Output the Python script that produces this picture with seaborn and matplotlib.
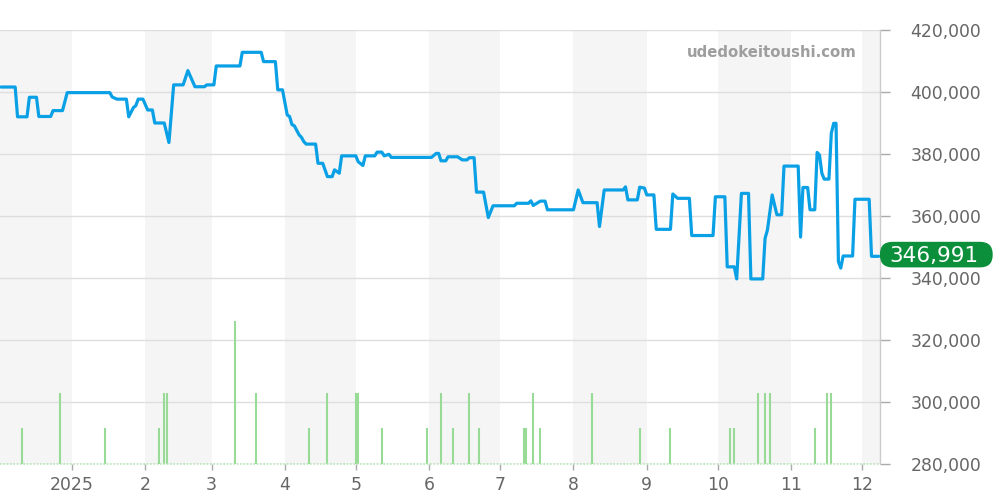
import matplotlib
matplotlib.use("Agg")
import matplotlib.pyplot as plt
import matplotlib.transforms as mtransforms
from matplotlib.patches import BoxStyle
from matplotlib.ticker import FuncFormatter
import seaborn as sns
import pandas as pd

# ---------------- data ----------------
price_dates = [
    "2024-12-02", "2024-12-08", "2024-12-09", "2024-12-13", "2024-12-14", "2024-12-17",
    "2024-12-18", "2024-12-23", "2024-12-24", "2024-12-28", "2024-12-30", "2025-01-17",
    "2025-01-18", "2025-01-20", "2025-01-24", "2025-01-25", "2025-01-27", "2025-01-28",
    "2025-01-29", "2025-01-31", "2025-02-02", "2025-02-04", "2025-02-05", "2025-02-09",
    "2025-02-11", "2025-02-13", "2025-02-17", "2025-02-19", "2025-02-22", "2025-02-26",
    "2025-02-27", "2025-03-02", "2025-03-03", "2025-03-13", "2025-03-14", "2025-03-22",
    "2025-03-23", "2025-03-28", "2025-03-29", "2025-03-31", "2025-04-02", "2025-04-03",
    "2025-04-04", "2025-04-05", "2025-04-07", "2025-04-08", "2025-04-09", "2025-04-10",
    "2025-04-14", "2025-04-15", "2025-04-17", "2025-04-19", "2025-04-21", "2025-04-22",
    "2025-04-24", "2025-04-25", "2025-05-01", "2025-05-02", "2025-05-04", "2025-05-05",
    "2025-05-09", "2025-05-10", "2025-05-12", "2025-05-13", "2025-05-15", "2025-05-16",
    "2025-06-02", "2025-06-04", "2025-06-05", "2025-06-06", "2025-06-08", "2025-06-09",
    "2025-06-13", "2025-06-15", "2025-06-17", "2025-06-18", "2025-06-20", "2025-06-21",
    "2025-06-24", "2025-06-26", "2025-06-28", "2025-07-07", "2025-07-08", "2025-07-13",
    "2025-07-14", "2025-07-15", "2025-07-18", "2025-07-20", "2025-07-21", "2025-08-01",
    "2025-08-03", "2025-08-05", "2025-08-11", "2025-08-12", "2025-08-14", "2025-08-22",
    "2025-08-23", "2025-08-24", "2025-08-28", "2025-08-29", "2025-08-31", "2025-09-01",
    "2025-09-04", "2025-09-05", "2025-09-11", "2025-09-12", "2025-09-14", "2025-09-19",
    "2025-09-20", "2025-09-29", "2025-09-30", "2025-10-04", "2025-10-05", "2025-10-08",
    "2025-10-09", "2025-10-11", "2025-10-14", "2025-10-15", "2025-10-20", "2025-10-21",
    "2025-10-22", "2025-10-24", "2025-10-26", "2025-10-28", "2025-10-29", "2025-11-04",
    "2025-11-05", "2025-11-06", "2025-11-08", "2025-11-09", "2025-11-11", "2025-11-12",
    "2025-11-13", "2025-11-14", "2025-11-15", "2025-11-17", "2025-11-18", "2025-11-19",
    "2025-11-20", "2025-11-21", "2025-11-22", "2025-11-23", "2025-11-27", "2025-11-28",
    "2025-12-04", "2025-12-05", "2025-12-08",
]
price_values = [
    401600, 401600, 392000, 392000, 398300, 398300,
    392100, 392100, 394000, 394000, 399800, 399800,
    398400, 397700, 397700, 392000, 395000, 395600,
    397700, 397700, 394200, 394200, 390000, 390000,
    383700, 402300, 402300, 406900, 401700, 401700,
    402300, 402300, 408400, 408400, 412800, 412800,
    409800, 409800, 400700, 400700, 392600, 392100,
    389500, 389100, 386200, 385400, 384000, 383200,
    383200, 377000, 377000, 372700, 372700, 374900,
    373800, 379400, 379400, 377500, 376300, 379400,
    379400, 380600, 380600, 379400, 379900, 378900,
    378900, 380200, 380200, 377800, 377800, 379100,
    379100, 378100, 378100, 378800, 378800, 367700,
    367700, 359500, 363300, 363300, 364100, 364100,
    364900, 363400, 364800, 364800, 362000, 362000,
    368400, 364300, 364300, 356600, 368400, 368400,
    369400, 365200, 365200, 369300, 369000, 366800,
    366800, 355700, 355700, 367100, 365700, 365700,
    353700, 353700, 366200, 366200, 343600, 343600,
    339700, 367300, 367300, 339700, 339700, 352800,
    355500, 366800, 360400, 360400, 376100, 376100,
    353200, 369200, 369200, 362000, 362000, 380500,
    379700, 373800, 371900, 371900, 386700, 389900,
    389900, 345300, 343200, 347100, 347100, 365400,
    365400, 346991, 346991,
]

volume_dates = [
    "2024-12-11", "2024-12-27", "2025-01-15", "2025-02-07", "2025-02-09", "2025-02-10",
    "2025-03-11", "2025-03-20", "2025-04-11", "2025-04-19", "2025-05-01", "2025-05-02",
    "2025-05-12", "2025-05-31", "2025-06-06", "2025-06-11", "2025-06-18", "2025-06-22",
    "2025-07-11", "2025-07-12", "2025-07-15", "2025-07-18", "2025-08-09", "2025-08-29",
    "2025-09-11", "2025-10-06", "2025-10-08", "2025-10-18", "2025-10-21", "2025-10-23",
    "2025-11-11", "2025-11-16", "2025-11-18",
]
volume_values = [
    1, 2, 1, 1, 2, 2,
    4, 2, 1, 2, 2, 2,
    1, 1, 2, 1, 2, 1,
    1, 1, 2, 1, 2, 1,
    1, 1, 1, 2, 2, 2,
    1, 2, 2,
]

y_ticks = [280000, 300000, 320000, 340000, 360000, 380000, 400000, 420000]
month_starts = ["2024-12-01", "2025-01-01", "2025-02-01", "2025-03-01", "2025-04-01",
                "2025-05-01", "2025-06-01", "2025-07-01", "2025-08-01", "2025-09-01",
                "2025-10-01", "2025-11-01", "2025-12-01", "2026-01-01"]
x_tick_dates = month_starts[1:13]
x_tick_labels = ["2025", "2", "3", "4", "5", "6", "7", "8", "9", "10", "11", "12"]
last_price = 346991
last_price_label = "346,991"
watermark = "udedokeitoushi.com"

# ---------------- style ----------------
sns.set_theme(style="white")
plt.rcParams['font.family'] = ['DejaVu Sans']

LINE_C = "#0aa0e6"
VOL_C = "#97db97"
BASE_C = "#b5e6b5"
BAND_C = "#f5f5f5"
GRID_C = "#dedede"
TEXT_C = "#666666"
BADGE_C = "#0b8f3b"

price_df = pd.DataFrame({"date": pd.to_datetime(price_dates), "price": price_values})
vol_df = pd.DataFrame({"date": pd.to_datetime(volume_dates), "volume": volume_values})

fig = plt.figure(figsize=(10, 5), dpi=100)
ax = fig.add_axes([0.0, 0.072, 0.88, 0.868])

# alternating month bands
ms = pd.to_datetime(month_starts)
for i in range(len(ms) - 1):
    if i % 2 == 0:
        ax.axvspan(ms[i], ms[i + 1], color=BAND_C, zorder=0, lw=0)

# volume on a hidden twin axis
ax2 = ax.twinx()
ax2.vlines(vol_df["date"], 0, vol_df["volume"], color=VOL_C, lw=1.5, zorder=2)
ax2.axhline(0, color=BASE_C, lw=1.2, ls=(0, (1, 1)), zorder=2, clip_on=False)
ax2.set_ylim(0, 12.16)
ax2.set_yticks([])
for s in ax2.spines.values():
    s.set_visible(False)

# price line
sns.lineplot(data=price_df, x="date", y="price", ax=ax, color=LINE_C, lw=2.3,
             zorder=3, estimator=None)

ax.set_ylim(280000, 420000)
ax.set_xlim(pd.Timestamp("2024-12-01 14:00"), pd.Timestamp("2025-12-08 14:00"))
ax2.set_xlim(ax.get_xlim())

ax.yaxis.tick_right()
ax.yaxis.set_label_position("right")
ax.set_yticks(y_ticks)
ax.yaxis.set_major_formatter(FuncFormatter(lambda v, p: f"{int(v):,}"))
ax.set_xticks(pd.to_datetime(x_tick_dates))
ax.set_xticklabels(x_tick_labels)
ax.set_xlabel("")
ax.set_ylabel("")

ax.tick_params(axis="y", which="both", right=True, left=False, length=7, width=1,
               color="#aaaaaa", labelcolor=TEXT_C, labelsize=12.4, pad=15)
ax.tick_params(axis="x", bottom=True, length=4, width=1, color="#aaaaaa",
               labelcolor=TEXT_C, labelsize=12.4, pad=5)

ax.yaxis.grid(True, color=GRID_C, lw=1)
ax.xaxis.grid(False)
ax.set_axisbelow(True)
for side in ["left", "top", "bottom"]:
    ax.spines[side].set_visible(False)
ax.spines["right"].set_color("#cccccc")
ax.spines["right"].set_linewidth(1)
ax.patch.set_alpha(0)


# badge with the last price (pill shape)
def badge_style(x0, y0, width, height, mutation_size):
    padx = 0.55 * mutation_size
    pady = 0.13 * mutation_size
    dx = 0.13 * mutation_size
    dy = 0.08 * mutation_size
    w = width + 2 * padx
    h = height + 2 * pady
    r = 0.49 * h / mutation_size
    return BoxStyle.Round(pad=0, rounding_size=r)(x0 - padx + dx, y0 - pady + dy, w, h,
                                                  mutation_size)


trans = mtransforms.blended_transform_factory(ax.transAxes, ax.transData)
ax.text(1.0608, last_price, last_price_label, transform=trans, ha="center", va="center",
        color="white", fontsize=15.5, zorder=10, clip_on=False,
        bbox=dict(boxstyle=badge_style, facecolor=BADGE_C, edgecolor="none"))

# watermark
ax.text(0.974, 0.948, watermark, transform=ax.transAxes, ha="right", va="center",
        color="#9e9e9e", fontsize=10.7, fontweight="bold", zorder=5)

fig.savefig("out.png", dpi=100)
